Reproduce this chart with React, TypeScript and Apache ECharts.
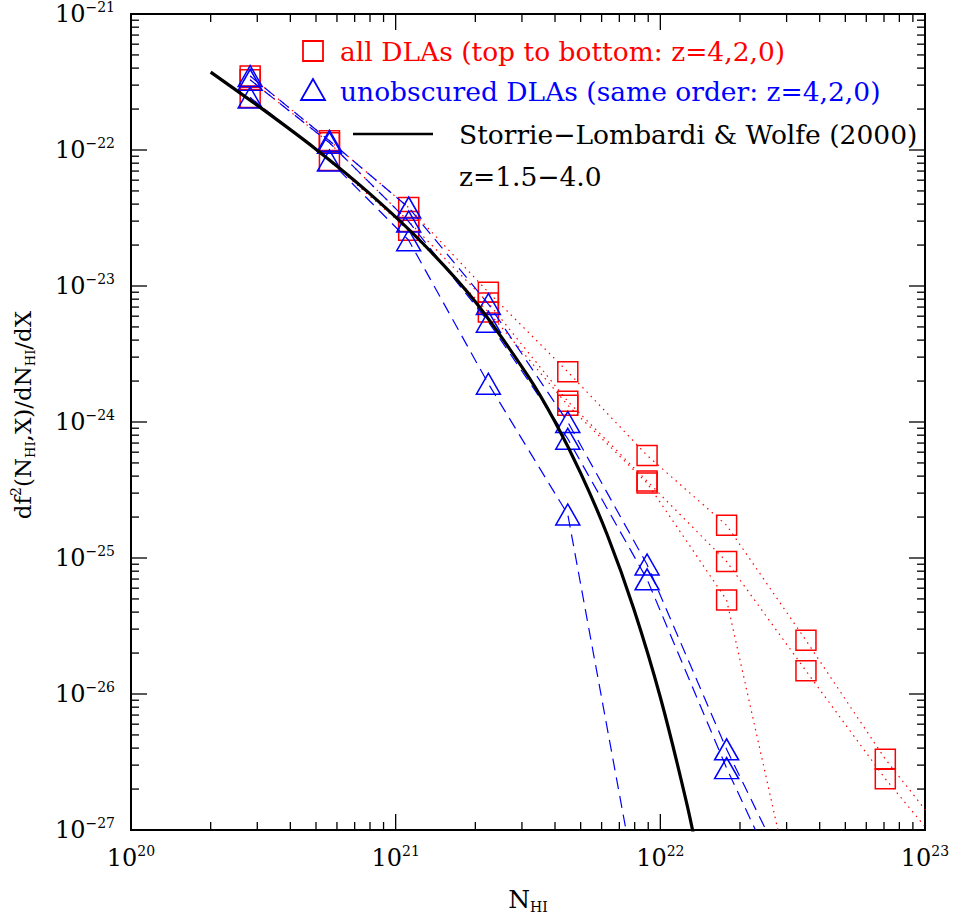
import React, { useEffect, useRef } from "react";
import * as echarts from "echarts";

// Column density bins (N_HI, cm^-2)
const nHI = [2.82e20, 5.62e20, 1.12e21, 2.24e21, 4.47e21, 8.91e21, 1.78e22, 3.55e22, 7.08e22, 1.41e23];

// all DLAs (red squares), z = 4, 2, 0
const allZ4 = [3.5e-22, 1.17e-22, 3.77e-23, 9.0e-24, 2.34e-24, 5.68e-25, 1.74e-25, 2.48e-26, 3.32e-27, 6.07e-28];
const allZ2 = [3.28e-22, 1.13e-22, 2.98e-23, 7.49e-24, 1.42e-24, 3.68e-25, 9.41e-26, 1.48e-26, 2.38e-27, 4.73e-28];
const allZ0 = [2.43e-22, 8.37e-23, 2.57e-23, 6.45e-24, 1.33e-24, 3.56e-25, 4.91e-26, 1.19e-28];

// unobscured DLAs (blue triangles), z = 4, 2, 0
const unobZ4 = [3.5e-22, 1.17e-22, 3.77e-23, 7.37e-24, 1.0e-24, 8.95e-26, 3.92e-27, 2.5e-28];
const unobZ2 = [3.28e-22, 1.13e-22, 2.98e-23, 5.46e-24, 7.53e-25, 6.97e-26, 2.85e-27, 1.6e-28];
const unobZ0 = [2.43e-22, 8.37e-23, 2.17e-23, 1.91e-24, 2.09e-25, 1.45e-28];

// Storrie-Lombardi & Wolfe (2000) curve
const slwN = [2.0e20, 3.16e20, 5.01e20, 7.94e20, 1.26e21, 2.0e21, 3.16e21, 3.98e21, 5.01e21, 6.31e21, 7.94e21, 1.0e22, 1.26e22, 1.41e22];
const slwF = [3.74e-22, 1.98e-22, 1.01e-22, 4.82e-23, 2.08e-23, 7.66e-24, 2.18e-24, 1.02e-24, 4.17e-25, 1.47e-25, 4.22e-26, 9.46e-27, 1.55e-27, 5.45e-28];

// axis decades (log10) and minor tick multipliers
const xDecades = [20, 21, 22, 23];
const yDecades = [-27, -26, -25, -24, -23, -22, -21];
const minorMults = [2, 3, 4, 5, 6, 7, 8, 9];

const legendTexts = [
  "all DLAs (top to bottom: z=4,2,0)",
  "unobscured DLAs (same order: z=4,2,0)",
  "Storrie\u2212Lombardi & Wolfe (2000)",
  "z=1.5\u22124.0",
];

const FONT = "DejaVu Serif";

function zipLog(xs: number[], ys: number[]) {
  return ys.map((y, i) => [Math.log10(xs[i]), Math.log10(y)]);
}

function tickData(decades: number[], isX: boolean) {
  const out: number[][] = [];
  decades.forEach((d, i) => {
    out.push(isX ? [d, -24, 16] : [21, d, 16]);
    if (i < decades.length - 1) {
      minorMults.forEach((m) => {
        const v = d + Math.log10(m);
        out.push(isX ? [v, -24, 8] : [21, v, 8]);
      });
    }
  });
  return out;
}

export default function App() {
  const ref = useRef<HTMLDivElement>(null);
  useEffect(() => {
    document.body.style.margin = "0";
    if (!ref.current) return;
    const chart = echarts.init(ref.current, undefined, { renderer: "svg" });

    const supLabel = (v: number) => {
      const e = Math.round(v);
      const s = e < 0 ? "\u2212" + String(-e) : String(e);
      return "{b|10}{s|" + s + "}";
    };
    const labelRich = {
      b: { fontSize: 24, fontFamily: FONT, color: "#000", lineHeight: 28 },
      s: { fontSize: 14, fontFamily: FONT, color: "#000", lineHeight: 14, verticalAlign: "top" },
    };

    const redLine = (data: number[][]) => ({
      type: "line",
      data,
      symbol: "rect",
      symbolSize: 20,
      showSymbol: true,
      clip: true,
      lineStyle: { color: "#ff0000", width: 1.2, type: [1.5, 4.5] },
      itemStyle: { color: "rgba(0,0,0,0)", borderColor: "#ff0000", borderWidth: 1.5 },
      z: 3,
    });
    const blueLine = (data: number[][]) => ({
      type: "line",
      data,
      symbol: "triangle",
      symbolSize: [24, 21],
      showSymbol: true,
      clip: true,
      lineStyle: { color: "#0000ff", width: 1.2, type: [12, 7] },
      itemStyle: { color: "rgba(0,0,0,0)", borderColor: "#0000ff", borderWidth: 1.5 },
      z: 4,
    });

    const tickSeries = (data: number[][], isX: boolean) => ({
      type: "custom",
      data,
      clip: false,
      silent: true,
      z: 10,
      encode: { x: 0, y: 1 },
      renderItem: (params: any, api: any) => {
        const cs = params.coordSys;
        const len = api.value(2);
        const p = api.coord([api.value(0), api.value(1)]);
        const st = { stroke: "#000", lineWidth: 1.3 };
        if (isX) {
          const x = p[0];
          const yb = cs.y + cs.height;
          const yt = cs.y;
          return {
            type: "group",
            children: [
              { type: "line", shape: { x1: x, y1: yb, x2: x, y2: yb - len }, style: st },
              { type: "line", shape: { x1: x, y1: yt, x2: x, y2: yt + len }, style: st },
            ],
          };
        }
        const y = p[1];
        const xl = cs.x;
        const xr = cs.x + cs.width;
        return {
          type: "group",
          children: [
            { type: "line", shape: { x1: xl, y1: y, x2: xl + len, y2: y }, style: st },
            { type: "line", shape: { x1: xr, y1: y, x2: xr - len, y2: y }, style: st },
          ],
        };
      },
    });

    const legendFont = { fontFamily: FONT, fontSize: 26.5 };

    chart.setOption({
      animation: false,
      backgroundColor: "#fff",
      grid: {
        left: 131,
        top: 10,
        width: 794,
        height: 830,
        show: true,
        borderColor: "#000",
        borderWidth: 2,
        backgroundColor: "transparent",
      },
      xAxis: {
        type: "value",
        min: 20,
        max: 23,
        interval: 1,
        splitLine: { show: false },
        axisLine: { show: false },
        axisTick: { show: false },
        axisLabel: { formatter: supLabel, rich: labelRich, margin: 14 },
        name: "{n|N}{h|HI}",
        nameLocation: "middle",
        nameGap: 54,
        nameTextStyle: {
          rich: {
            n: { fontSize: 25, fontFamily: FONT, color: "#000", lineHeight: 30 },
            h: { fontSize: 14, fontFamily: FONT, color: "#000", lineHeight: 14, verticalAlign: "bottom" },
          },
        },
      },
      yAxis: {
        type: "value",
        min: -27,
        max: -21,
        interval: 1,
        splitLine: { show: false },
        axisLine: { show: false },
        axisTick: { show: false },
        axisLabel: { formatter: supLabel, rich: labelRich, margin: 16 },
        name: "{t|df}{p|2}{t|(N}{h|HI}{t|,X)/dN}{h|HI}{t|/dX}",
        nameLocation: "middle",
        nameRotate: 90,
        nameGap: 94,
        nameTextStyle: {
          padding: [0, 0, 0, 14],
          rich: {
            t: { fontSize: 23, fontFamily: FONT, color: "#000", lineHeight: 28 },
            p: { fontSize: 14, fontFamily: FONT, color: "#000", lineHeight: 15, verticalAlign: "top" },
            h: { fontSize: 13, fontFamily: FONT, color: "#000", lineHeight: 13, verticalAlign: "bottom" },
          },
        },
      },
      series: [
        redLine(zipLog(nHI, allZ4)),
        redLine(zipLog(nHI, allZ2)),
        redLine(zipLog(nHI, allZ0)),
        blueLine(zipLog(nHI, unobZ4)),
        blueLine(zipLog(nHI, unobZ2)),
        blueLine(zipLog(nHI, unobZ0)),
        {
          type: "line",
          data: zipLog(slwN, slwF),
          showSymbol: false,
          symbol: "none",
          smooth: 0.3,
          clip: true,
          lineStyle: { color: "#000", width: 3.2 },
          z: 5,
        },
        tickSeries(tickData(xDecades, true), true),
        tickSeries(tickData(yDecades, false), false),
      ],
      graphic: [
        { type: "rect", shape: { x: 303, y: 41, width: 20, height: 20 }, style: { fill: "none", stroke: "#ff0000", lineWidth: 1.8 } },
        { type: "text", x: 340, y: 51, style: { text: legendTexts[0], fill: "#ff0000", verticalAlign: "middle", ...legendFont } },
        { type: "polygon", shape: { points: [[313, 79], [301, 100], [325, 100]] }, style: { fill: "none", stroke: "#0000ff", lineWidth: 1.8 } },
        { type: "text", x: 340, y: 91, style: { text: legendTexts[1], fill: "#0000ff", verticalAlign: "middle", ...legendFont } },
        { type: "line", shape: { x1: 353, y1: 134, x2: 433, y2: 134 }, style: { stroke: "#000", lineWidth: 2.5 } },
        { type: "text", x: 459, y: 134, style: { text: legendTexts[2], fill: "#000", verticalAlign: "middle", ...legendFont } },
        { type: "text", x: 459, y: 176, style: { text: legendTexts[3], fill: "#000", verticalAlign: "middle", ...legendFont } },
      ],
    });
    return () => chart.dispose();
  }, []);
  return <div ref={ref} style={{ width: 956, height: 919 }} />;
}
